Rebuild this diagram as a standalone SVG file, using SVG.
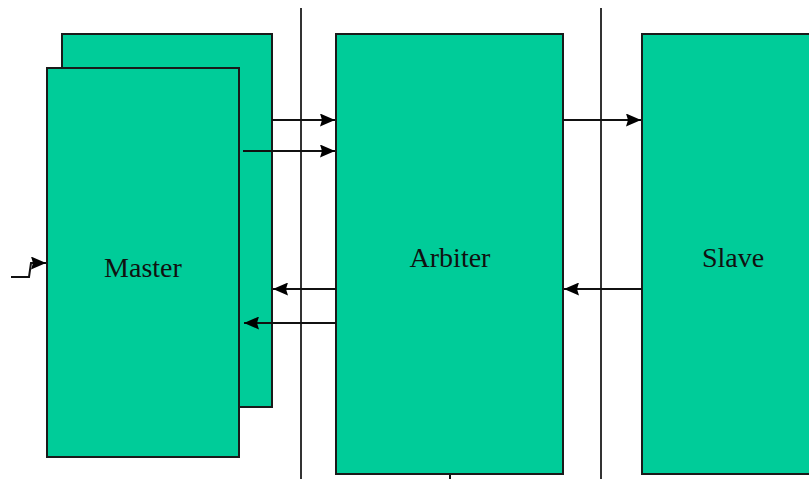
<svg xmlns="http://www.w3.org/2000/svg" width="809" height="479" viewBox="0 0 809 479">
<defs>
<marker id="ahb" markerWidth="15" markerHeight="13" refX="15" refY="6.5" orient="auto" markerUnits="userSpaceOnUse">
<path d="M0,0 L15,6.5 L0,13 L2,6.5 Z" fill="#000"/>
</marker>
</defs>
<style>
.box{fill:#00CC99;stroke:#1a1a1a;stroke-width:2}
.lbl{font-family:"Liberation Serif",serif;font-size:28px;fill:#111;text-anchor:middle}
.sep{stroke:#333;stroke-width:2;fill:none}
.con{stroke:#111;stroke-width:2;fill:none}
</style>
<g id="separators">
<line class="sep" x1="301" y1="8" x2="301" y2="479"/>
<line class="sep" x1="601" y1="8" x2="601" y2="479"/>
</g>
<g id="master-back"><rect class="box" x="62" y="34" width="210" height="373"/></g>
<g id="master"><rect class="box" x="47" y="68" width="192" height="389"/><text class="lbl" x="143" y="277">Master</text></g>
<g id="arbiter"><rect class="box" x="336" y="34" width="227" height="440"/><text class="lbl" x="450" y="267">Arbiter</text></g>
<g id="slave"><rect class="box" x="642" y="34" width="180" height="440"/><text class="lbl" x="733" y="267">Slave</text></g>
<g id="connectors">
<line class="con" x1="272" y1="120" x2="335" y2="120" marker-end="url(#ahb)"/>
<line class="con" x1="243" y1="151" x2="335" y2="151" marker-end="url(#ahb)"/>
<line class="con" x1="336" y1="289" x2="273" y2="289" marker-end="url(#ahb)"/>
<line class="con" x1="336" y1="323" x2="244" y2="323" marker-end="url(#ahb)"/>
<line class="con" x1="563" y1="120" x2="641" y2="120" marker-end="url(#ahb)"/>
<line class="con" x1="642" y1="289" x2="564" y2="289" marker-end="url(#ahb)"/>
<polyline class="con" points="11,277 29,277 31,263 46,263" marker-end="url(#ahb)"/>
<line class="con" x1="450" y1="475" x2="450" y2="479"/>
</g>
</svg>
